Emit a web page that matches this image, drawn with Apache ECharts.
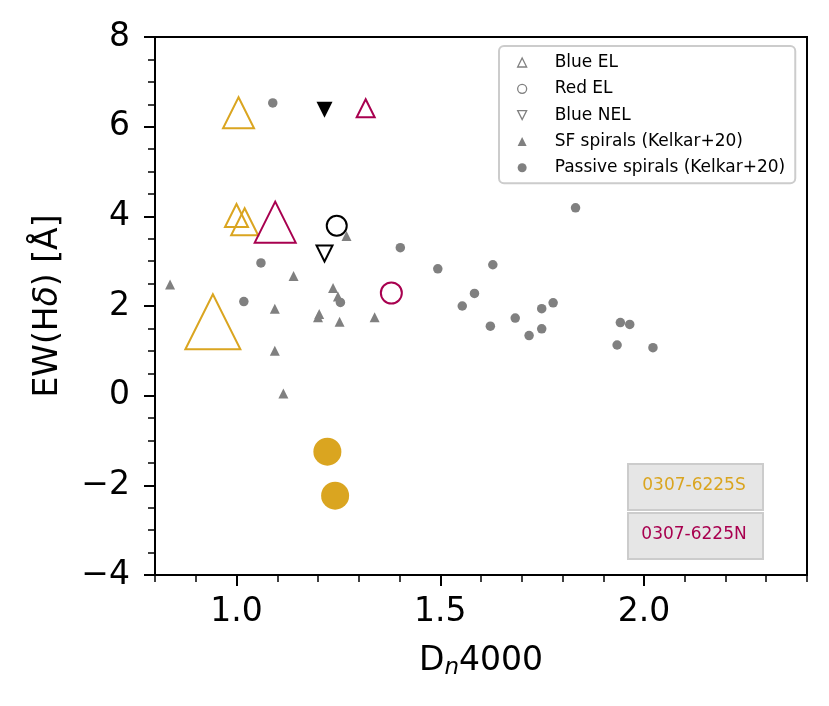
<!DOCTYPE html>
<html>
<head>
<meta charset="utf-8">
<title>EW(Hd) vs Dn4000</title>
<script src="https://cdn.jsdelivr.net/npm/echarts@6/dist/echarts.min.js"></script>
</head>
<style>
html,body{margin:0;padding:0;background:#fff;}
#container{width:829px;height:706px;}
</style>
<body>
<div id="container"></div>
<script>
    // Kelkar+20 comparison samples
    var sfX = [0.837, 1.140, 1.270, 1.094, 1.237, 1.249, 1.203, 1.200, 1.253, 1.339, 1.094, 1.115];
    var sfY = [2.48, 2.67, 3.56, 1.94, 2.40, 2.21, 1.82, 1.75, 1.65, 1.75, 1.00, 0.05];
    var passiveX = [1.089, 1.060, 1.018, 1.255, 1.402, 1.494, 1.629, 1.832, 1.584, 1.554,
                    1.623, 1.684, 1.718, 1.749, 1.749, 1.777, 1.942, 1.965, 1.934, 2.022];
    var passiveY = [6.53, 2.96, 2.10, 2.08, 3.30, 2.83, 2.92, 4.19, 2.28, 2.00,
                    1.55, 1.73, 1.34, 1.94, 1.49, 2.07, 1.63, 1.59, 1.13, 1.07];

    // 0307-6225S (gold)
    var blueElSX = [1.005, 1.000, 1.020, 0.942];
    var blueElSY = [6.31, 4.02, 3.88, 1.65];
    var blueElSSize = [31, 23, 27, 55];
    var filledSX = [1.223, 1.242];
    var filledSY = [-1.25, -2.23];

    // 0307-6225N (crimson)
    var blueElNX = [1.095, 1.317];
    var blueElNY = [3.87, 6.41];
    var blueElNSize = [41, 18];
    var redElNX = [1.380];
    var redElNY = [2.29];

    // black markers
    var redElKX = [1.246];
    var redElKY = [3.79];
    var blueNelX = [1.216];
    var blueNelY = [3.17];
    var filledNelX = [1.216];
    var filledNelY = [6.38];

    var xMajor = [1.0, 1.5, 2.0];
    var legendNames = ['Blue EL', 'Red EL', 'Blue NEL', 'SF spirals (Kelkar+20)', 'Passive spirals (Kelkar+20)'];

    var GOLD = '#DAA520';
    var CRIMSON = '#A8004F';
    var GRAY = '#808080';
    var FONT = 'DejaVu Sans';
    var FS = 33;

    function pts(xs, ys, sizes) {
        return xs.map(function (x, i) {
            return sizes ? [x, ys[i], sizes[i]] : [x, ys[i]];
        });
    }
    function bySize(v) { return v[2]; }
    function openStyle(c) {
        return {color: 'rgba(0,0,0,0)', borderColor: c, borderWidth: 2, opacity: 1};
    }
    function solid(c) {
        return {color: c, opacity: 1};
    }
    var downTri = 'path://M0,0L10,0L5,10Z';
    var openGray = {color: 'rgba(0,0,0,0)', borderColor: GRAY, borderWidth: 1.3, opacity: 1};

    var option = {
        animation: false,
        grid: {
            left: 155, right: 22, top: 37, bottom: 131,
            show: true, borderColor: '#000', borderWidth: 2
        },
        legend: {
            orient: 'vertical',
            left: 499, top: 46,
            padding: [8, 10, 7, 18],
            itemWidth: 9, itemHeight: 9, itemGap: 9.3,
            symbolKeepAspect: true,
            backgroundColor: 'rgba(255,255,255,0.8)',
            borderColor: '#cccccc', borderWidth: 2, borderRadius: 5,
            textStyle: {fontFamily: FONT, fontSize: 17, color: '#000', lineHeight: 16, padding: [0, 0, 0, 23]},
            data: [
                {name: legendNames[0], icon: 'triangle', itemStyle: openGray},
                {name: legendNames[1], icon: 'circle', itemStyle: openGray},
                {name: legendNames[2], icon: downTri, itemStyle: openGray},
                {name: legendNames[3], icon: 'triangle', itemStyle: {color: GRAY, borderWidth: 0, opacity: 1}},
                {name: legendNames[4], icon: 'circle', itemStyle: {color: GRAY, borderWidth: 0, opacity: 1}}
            ]
        },
        xAxis: [{
            type: 'value', min: 0.8, max: 2.4,
            name: '{a|D}{b|n}{a|4000}',
            nameLocation: 'middle', nameGap: 67,
            nameTextStyle: {
                color: '#000', fontFamily: FONT, fontSize: FS,
                rich: {
                    a: {fontFamily: FONT, fontSize: FS, lineHeight: 38, color: '#000'},
                    b: {fontFamily: FONT, fontSize: 23, fontStyle: 'italic', lineHeight: 18, verticalAlign: 'bottom', color: '#000'}
                }
            },
            axisLine: {show: true, onZero: false, lineStyle: {color: '#000', width: 2}},
            axisTick: {show: true, customValues: xMajor, length: 11, lineStyle: {color: '#000', width: 2}},
            axisLabel: {
                customValues: xMajor, color: '#000', fontFamily: FONT, fontSize: FS, margin: 21,
                formatter: function (v) { return v.toFixed(1); }
            },
            splitLine: {show: false}
        }, {
            type: 'value', min: 0.8, max: 2.4, interval: 0.1, position: 'bottom',
            axisLine: {show: false, onZero: false},
            axisTick: {show: true, length: 7, lineStyle: {color: '#000', width: 1.5}},
            axisLabel: {show: false},
            splitLine: {show: false}
        }],
        yAxis: {
            type: 'value', min: -4, max: 8, interval: 2,
            name: 'EW(H{i|δ}) [Å]',
            nameLocation: 'middle', nameGap: 90, nameRotate: 90,
            nameTextStyle: {
                color: '#000', fontFamily: FONT, fontSize: FS,
                rich: {i: {fontFamily: FONT, fontSize: FS, fontStyle: 'italic', color: '#000'}}
            },
            axisLine: {show: true, onZero: false, lineStyle: {color: '#000', width: 2}},
            axisTick: {show: true, length: 11, lineStyle: {color: '#000', width: 2}},
            minorTick: {show: true, splitNumber: 4, length: 7, lineStyle: {color: '#000', width: 1.5}},
            axisLabel: {
                color: '#000', fontFamily: FONT, fontSize: FS, margin: 25,
                formatter: function (v) { return v < 0 ? '\u2212' + Math.abs(v) : String(v); }
            },
            splitLine: {show: false}
        },
        graphic: [
            {type: 'rect', left: 627, top: 463, shape: {width: 135, height: 46},
             style: {fill: '#e6e6e6', stroke: '#cccccc', lineWidth: 2}},
            {type: 'text', x: 694, y: 486,
             style: {text: '0307-6225S', fill: GOLD, fontFamily: FONT, fontSize: 17, align: 'center', verticalAlign: 'middle'}},
            {type: 'rect', left: 627, top: 512, shape: {width: 135, height: 46},
             style: {fill: '#e6e6e6', stroke: '#cccccc', lineWidth: 2}},
            {type: 'text', x: 694, y: 535,
             style: {text: '0307-6225N', fill: CRIMSON, fontFamily: FONT, fontSize: 17, align: 'center', verticalAlign: 'middle'}}
        ],
        series: [
            {name: legendNames[3], type: 'scatter', symbol: 'triangle', symbolSize: 10,
             itemStyle: solid(GRAY), data: pts(sfX, sfY)},
            {name: legendNames[4], type: 'scatter', symbol: 'circle', symbolSize: 9.5,
             itemStyle: solid(GRAY), data: pts(passiveX, passiveY)},
            {name: legendNames[0], type: 'scatter', symbol: 'triangle', symbolSize: bySize,
             itemStyle: openStyle(GOLD), data: pts(blueElSX, blueElSY, blueElSSize)},
            {name: legendNames[0], type: 'scatter', symbol: 'triangle', symbolSize: bySize,
             itemStyle: openStyle(CRIMSON), data: pts(blueElNX, blueElNY, blueElNSize)},
            {name: legendNames[1], type: 'scatter', symbol: 'circle', symbolSize: 21,
             itemStyle: openStyle(CRIMSON), data: pts(redElNX, redElNY)},
            {name: legendNames[1], type: 'scatter', symbol: 'circle', symbolSize: 20,
             itemStyle: openStyle('#000'), data: pts(redElKX, redElKY)},
            {name: legendNames[2], type: 'scatter', symbol: 'triangle', symbolRotate: 180, symbolSize: 16,
             itemStyle: openStyle('#000'), data: pts(blueNelX, blueNelY)},
            {name: 'Blue NEL (filled)', type: 'scatter', symbol: 'triangle', symbolRotate: 180, symbolSize: 16,
             itemStyle: solid('#000'), data: pts(filledNelX, filledNelY)},
            {name: '0307-6225S filled', type: 'scatter', symbol: 'circle', symbolSize: 28,
             itemStyle: solid(GOLD), data: pts(filledSX, filledSY)}
        ]
    };
    var myChart = echarts.init(document.getElementById('container'));
    myChart.setOption(option, true);
</script>
</body>
</html>
